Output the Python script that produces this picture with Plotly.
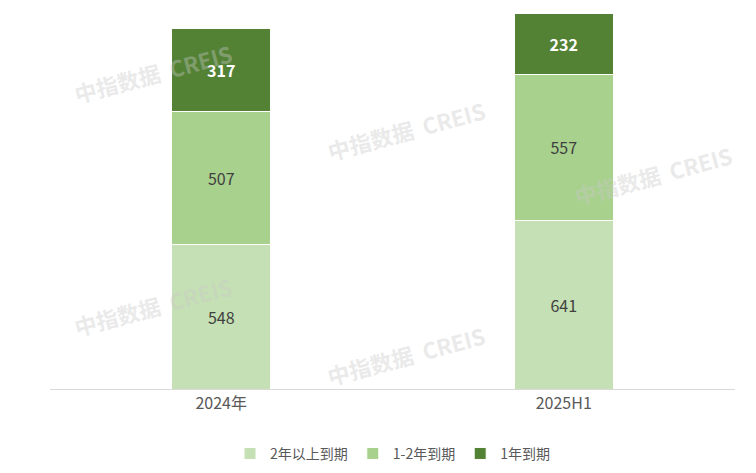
import plotly.graph_objects as go

categories = ["2024年", "2025H1"]
s_2plus = [548, 641]
s_1to2 = [507, 557]
s_1yr = [317, 232]

fig = go.Figure()
fig.add_bar(x=categories, y=s_2plus, name="2年以上到期", marker_color="#c5e0b4",
            text=s_2plus, textposition="inside", insidetextanchor="middle",
            textfont=dict(color="#404040", size=16))
fig.add_bar(x=categories, y=s_1to2, name="1-2年到期", marker_color="#a9d18e",
            text=s_1to2, textposition="inside", insidetextanchor="middle",
            textfont=dict(color="#404040", size=16))
fig.add_bar(x=categories, y=s_1yr, name="1年到期", marker_color="#548235",
            text=s_1yr, textposition="inside", insidetextanchor="middle",
            textfont=dict(color="white", size=16, family="Noto Sans CJK SC", weight="bold"))
fig.update_traces(width=0.29, marker_line_color="white", marker_line_width=1)

for x, y in [(0.15, 0.84), (0.52, 0.69), (0.88, 0.57), (0.15, 0.22), (0.52, 0.09)]:
    fig.add_annotation(text="中指数据  CREIS", xref="paper", yref="paper", x=x, y=y,
                       xanchor="center", yanchor="middle",
                       showarrow=False, textangle=-15,
                       font=dict(size=22, color="rgba(200,200,200,0.4)", family="Noto Sans CJK SC", weight="bold"))

fig.update_layout(
    barmode="stack", width=756, height=473, plot_bgcolor="white", paper_bgcolor="white",
    margin=dict(l=42, r=29, t=5, b=92),
    font=dict(family="Noto Sans CJK SC", size=15, color="#595959"),
    xaxis=dict(showline=True, linecolor="#d9d9d9", tickfont=dict(size=16, color="#595959")),
    yaxis=dict(visible=False, range=[0, 1430]),
    legend=dict(orientation="h", x=0.5, xanchor="center", y=-0.13, yanchor="top",
                traceorder="normal", font=dict(size=14, color="#595959")),
    bargap=0.71,
)
fig.write_html("out.html")
